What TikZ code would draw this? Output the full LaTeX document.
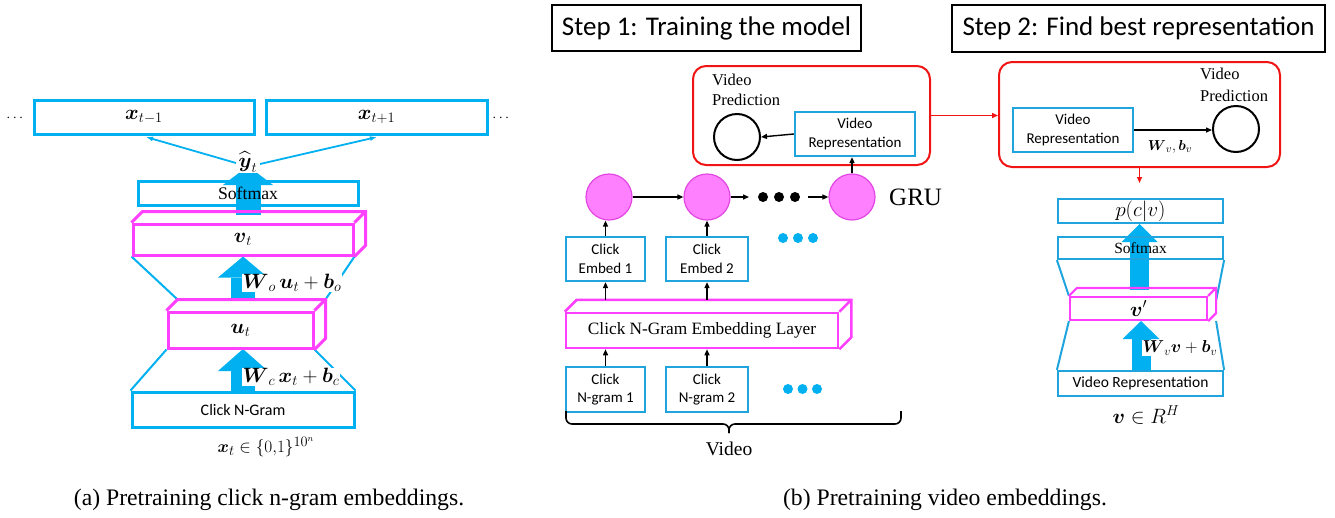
\documentclass[tikz,border=0pt]{standalone}
\usepackage{amsmath}
\usepackage{fontspec}
\setmainfont{Liberation Serif}
\newfontfamily\calib{Carlito}
\usetikzlibrary{arrows.meta,calc,backgrounds}
\definecolor{cyanA}{RGB}{0,176,240}
\definecolor{cyanB}{RGB}{32,164,222}
\definecolor{magL}{RGB}{255,64,255}
\definecolor{magF}{RGB}{255,128,255}
\definecolor{magD}{RGB}{226,70,226}
\definecolor{redL}{RGB}{240,20,20}
\newcommand\fsz[2]{\fontsize{#1}{#2}\selectfont}
\newcommand\mkcuboid[3]{%
  \draw[magL,line width=#3] (#1.north west) -- ++(#2,-#2) -- ($(#1.north east)+(#2,-#2)$) -- ($(#1.south east)+(#2,-#2)$) -- (#1.south east) (#1.north east) -- ++(#2,-#2);}
\begin{document}
\begin{tikzpicture}[x=1pt,y=-1pt,
  boxa/.style={draw=cyanA,line width=3,inner sep=0},
  boxb/.style={draw=cyanB,line width=2.2,inner sep=0,align=center,font=\calib\fsz{15}{18.5}},
  cubf/.style={draw=magL,line width=3,inner sep=0},
  blk/.style={black,line width=1.4,-{Triangle[length=6pt,width=5pt]}},
  redbox/.style={draw=redL,line width=2,rounded corners=13,inner sep=0},
  redarr/.style={redL,line width=1.4,-{Triangle[length=6pt,width=5pt]}},
  stepbox/.style={draw=black,line width=2,inner sep=0,font=\calib\fsz{27}{32}},
  gru/.style={circle,fill=magF,draw=magD,line width=1.2,minimum size=46,inner sep=0},
  predc/.style={circle,draw=black,line width=2,minimum size=46,inner sep=0},
  bigarrow/.style n args={3}{draw=cyanA,line width=#1,-{Triangle[width=#2pt,length=#3pt,line width=0pt]}},
  lbl/.style={inner sep=0},
  trap/.style={cyanA,line width=2},
  trapb/.style={cyanB,line width=2},
  cyline/.style={cyanA,line width=1.8,-{Latex[length=7pt,width=5pt]}},
]
\useasboundingbox (0,0) rectangle (1335,517);

% ---------------- (a) ----------------
\node[boxa,minimum width=220,minimum height=34,font=\fsz{21}{24}] (xm1) at (144,117) {$\boldsymbol{x}_{t-1}$};
\node[boxa,minimum width=221,minimum height=34,font=\fsz{21}{24}] (xp1) at (376.5,117) {$\boldsymbol{x}_{t+1}$};
\node[lbl,font=\fsz{14}{16}] (dl) at (16,118) {$\cdots$};
\node[lbl,font=\fsz{14}{16}] (dr) at (502,118) {$\cdots$};
\node[boxa,minimum width=220,minimum height=24,font=\fsz{17.7}{20}] (smA) at (248,193) {Softmax};
\node[cubf,minimum width=220,minimum height=31,font=\fsz{21}{24}] (vt) at (243,239.5) {$\boldsymbol{v}_t$};
\mkcuboid{vt}{11}{3}
\node[cubf,minimum width=145,minimum height=36,font=\fsz{21}{24}] (ut) at (240.5,330) {$\boldsymbol{u}_t$};
\mkcuboid{ut}{11}{3}
\node[boxa,minimum width=222,minimum height=35,font=\calib\fsz{16}{19}] (cng) at (243,409.5) {Click N-Gram};
\node[lbl,font=\fsz{19}{22}] (xt) at (266,447) {$\boldsymbol{x}_t\in\{0{,}1\}^{10^n}$};
\node[lbl,fill=white,inner sep=0.5,font=\fsz{20}{24}] (yh) at (248,162) {$\widehat{\boldsymbol{y}}_t$};
\draw[cyline] ($(yh.west)+(-2,1)$) -- ($(xm1.south)+(2,1.5)$);
\draw[cyline] ($(yh.east)+(2,2)$) -- ($(xp1.south)+(0.5,1.5)$);
\node[lbl,fill=white,inner sep=0.5,anchor=west,font=\fsz{19.5}{23}] (wo) at (242,283) {$\boldsymbol{W}_{o}\,\boldsymbol{u}_t+\boldsymbol{b}_o$};
\node[lbl,fill=white,inner sep=0.5,anchor=west,font=\fsz{19.5}{23}] (wc) at (242,377) {$\boldsymbol{W}_{c}\,\boldsymbol{x}_t+\boldsymbol{b}_c$};

\begin{scope}[on background layer]
\draw[bigarrow={25}{50}{19}] (248,214.5) -- (248,166);
\draw[bigarrow={24}{50}{21}] (243,300) -- (243,256.5);
\draw[bigarrow={24}{50}{22}] (243,392) -- (243,349);
\draw[trap] (vt.south west) -- ($(ut.north west)+(11,-11)$);
\draw[trap] (vt.south east) -- ($(ut.north east)+(11,-11)$);
\draw[trap] (ut.south west) -- (cng.north west);
\draw[trap] (ut.south east) -- (cng.north east);
\end{scope}

% ---------------- (b) left ----------------
\node[stepbox,minimum width=309,minimum height=46] (s1) at (706.5,28) {Step 1: Training the model};
\node[stepbox,minimum width=373,minimum height=47] (s2) at (1138.5,28.5) {Step 2: Find best representation};

\node[redbox,minimum width=237,minimum height=99] (rb1) at (811.5,115.5) {};
\node[redbox,minimum width=281,minimum height=105] (rb2) at (1139.5,114.5) {};

\node[lbl,align=left,anchor=west,font=\fsz{16.5}{20}] (vp1) at (712,90) {Video\\Prediction};
\node[predc] (c1) at (737,137) {};
\node[boxb,minimum width=120,minimum height=44] (vr1) at (855,134) {Video\\Representation};
\draw[blk] (vr1.west) -- (c1.east);

\node[gru] (g1) at (609,197) {};
\node[gru] (g2) at (707,197) {};
\node[gru] (g3) at (852,197) {};
\foreach \x in {763,779,795} \fill[black] (\x,197) circle (5);
\coordinate (d1) at (749,197);
\coordinate (d2) at (808,197);
\draw[blk] (g1) -- (g2);
\draw[blk] (g2) -- (d1);
\draw[blk] (d2) -- (g3);
\node[lbl,anchor=west,font=\fsz{25}{30}] (grul) at (889,197) {GRU};
\draw[blk] (g3.north) -- (g3.north |- vr1.south);

\node[boxb,minimum width=79,minimum height=44] (e1) at (605.5,259) {Click\\Embed 1};
\node[boxb,minimum width=82,minimum height=44] (e2) at (707,259) {Click\\Embed 2};
\draw[blk] (e1.north) -- (e1.north |- g1.south);
\draw[blk] (e2.north) -- (e2.north |- g2.south);
\foreach \x in {783,798,813} \fill[cyanA] (\x,238) circle (5);

\node[cubf,line width=2.5,minimum width=272,minimum height=35,font=\fsz{17.3}{20}] (emb) at (702,330.5) {Click N-Gram Embedding Layer};
\mkcuboid{emb}{12}{2.5}
\coordinate (embtop) at ($(emb.north)+(0,-12)$);
\draw[blk] (e1.south |- embtop) -- (e1.south);
\draw[blk] (e2.south |- embtop) -- (e2.south);

\node[boxb,minimum width=79,minimum height=45] (n1) at (605.5,389.5) {Click\\N-gram 1};
\node[boxb,minimum width=82,minimum height=45] (n2) at (707,389.5) {Click\\N-gram 2};
\draw[blk] (n1.north) -- (n1.north |- emb.south);
\draw[blk] (n2.north) -- (n2.north |- emb.south);
\foreach \x in {788,802.5,817} \fill[cyanA] (\x,389) circle (5);

\draw[line width=1.6,rounded corners=6] (566,411) -- (566,424) -- (729,424) -- (729,433);
\draw[line width=1.6,rounded corners=6] (901,411) -- (901,424) -- (729,424) -- (729,433);
\node[lbl,font=\fsz{19.5}{23}] (vid) at (729,449) {Video};

\draw[redarr] (rb1.east) -- (rb1.east -| rb2.west);

% ---------------- (b) right ----------------
\node[boxb,minimum width=120,minimum height=44] (vr2) at (1073,130) {Video\\Representation};
\node[predc] (c2) at (1236,129) {};
\draw[blk] (vr2.east) -- (vr2.east -| c2.west);
\node[lbl,font=\fsz{15.5}{18}] (wvbv) at (1170,147) {$\boldsymbol{W}_{v},\boldsymbol{b}_{v}$};
\node[lbl,align=left,anchor=west,font=\fsz{16.5}{21.5}] (vp2) at (1200,85) {Video\\Prediction};
\coordinate (rdn) at (1139.5,183);
\draw[redarr] (rb2.south) -- (rdn);

\node[boxb,minimum width=165,minimum height=24,font=\fsz{22}{24}] (pcv) at (1140.5,211) {$p(c|v)$};
\node[boxb,minimum width=165,minimum height=22,font=\fsz{15.5}{18}] (smB) at (1140.5,248) {Softmax};
\node[cubf,line width=2.2,minimum width=137,minimum height=23,font=\fsz{20}{22}] (vp) at (1138.5,308.5) {$\boldsymbol{v}'$};
\mkcuboid{vp}{8}{2.2}
\node[boxb,minimum width=165,minimum height=25,font=\calib\fsz{15.5}{18}] (vrB) at (1140.5,383.5) {Video Representation};
\node[lbl,fill=white,inner sep=0.5,anchor=west,font=\fsz{18.5}{22}] (wv) at (1142,348) {$\boldsymbol{W}_{v}\boldsymbol{v}+\boldsymbol{b}_v$};
\node[lbl,font=\fsz{19.5}{22}] (vrh) at (1146,415) {$\boldsymbol{v}\in R^H$};

\begin{scope}[on background layer]
\draw[bigarrow={19}{36}{18}] (1139.5,290) -- (1139.5,224);
\draw[bigarrow={19}{37}{18}] (1141,371) -- (1141,321);
\draw[trapb] (smB.south west) -- (vp.north west);
\draw[trapb] (smB.south east) -- ($(vp.east)+(8,-8)$);
\draw[trapb] (vp.south west) -- (vrB.north west);
\draw[trapb] ($(vp.south east)+(8,0)$) -- (vrB.north east);
\end{scope}

% ---------------- captions ----------------
\node[lbl,font=\fsz{23.7}{28}] (capa) at (269,500) {(a) Pretraining click n-gram embeddings.};
\node[lbl,font=\fsz{23.7}{28}] (capb) at (945,500) {(b) Pretraining video embeddings.};
\end{tikzpicture}
\end{document}
